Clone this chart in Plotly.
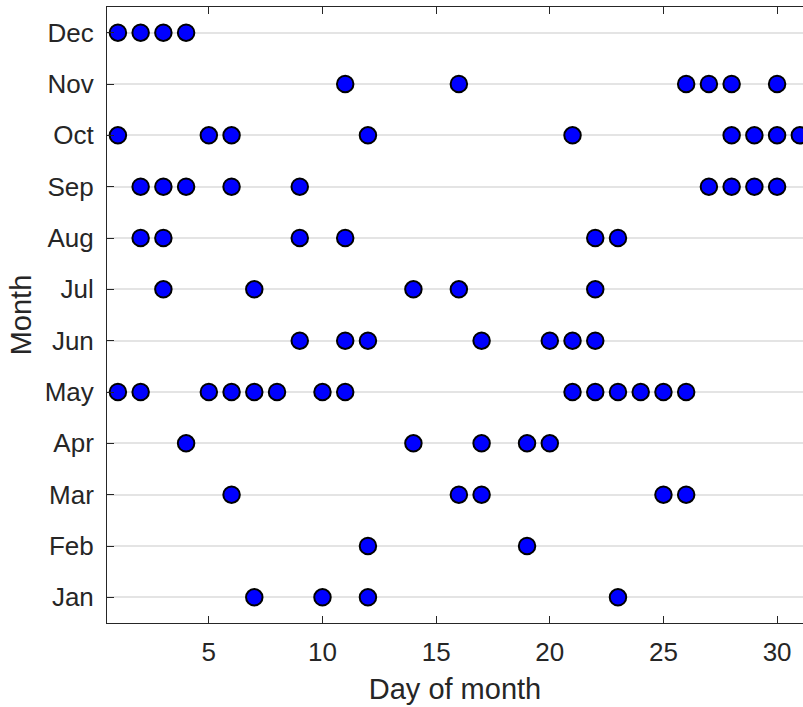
import plotly.graph_objects as go

months = ["Jan", "Feb", "Mar", "Apr", "May", "Jun", "Jul", "Aug", "Sep", "Oct", "Nov", "Dec"]

days_jan = [7, 10, 12, 23]
days_feb = [12, 19]
days_mar = [6, 16, 17, 25, 26]
days_apr = [4, 14, 17, 19, 20]
days_may = [1, 2, 5, 6, 7, 8, 10, 11, 21, 22, 23, 24, 25, 26]
days_jun = [9, 11, 12, 17, 20, 21, 22]
days_jul = [3, 7, 14, 16, 22]
days_aug = [2, 3, 9, 11, 22, 23]
days_sep = [2, 3, 4, 6, 9, 27, 28, 29, 30]
days_oct = [1, 5, 6, 12, 21, 28, 29, 30, 31]
days_nov = [11, 16, 26, 27, 28, 30]
days_dec = [1, 2, 3, 4]

x_ticks = [5, 10, 15, 20, 25, 30]

all_days = [days_jan, days_feb, days_mar, days_apr, days_may, days_jun,
            days_jul, days_aug, days_sep, days_oct, days_nov, days_dec]

xs, ys = [], []
for m, d in zip(months, all_days):
    xs.extend(d)
    ys.extend([m] * len(d))

axis_color = "#262626"
font_family = "Arial, Liberation Sans, sans-serif"

fig = go.Figure()
fig.add_trace(go.Scatter(
    x=xs, y=ys, mode="markers",
    marker=dict(size=16.5, color="#0000FF", line=dict(color="black", width=2)),
    cliponaxis=True,
    showlegend=False,
))

fig.update_layout(
    width=803, height=707,
    margin=dict(l=107, r=0, t=7, b=84),
    paper_bgcolor="white", plot_bgcolor="white",
    font=dict(family=font_family, color=axis_color, size=26),
)
fig.update_xaxes(
    range=[0.52, 31.14],
    tickmode="array", tickvals=x_ticks,
    ticks="inside", ticklen=7, tickwidth=1, tickcolor=axis_color,
    showline=True, linecolor=axis_color, linewidth=1, mirror="ticks",
    showgrid=False, zeroline=False,
    tickfont=dict(size=26, color=axis_color),
    ticklabelstandoff=6,
    title=dict(text="Day of month", font=dict(size=29, color=axis_color), standoff=12),
)
fig.update_yaxes(
    type="category", categoryorder="array", categoryarray=months,
    range=[-0.5, 11.5],
    ticks="inside", ticklen=7, tickwidth=1, tickcolor=axis_color,
    showline=True, linecolor=axis_color, linewidth=1, mirror=False,
    showgrid=True, gridcolor="#e4e4e4", gridwidth=1.5,
    zeroline=False,
    tickfont=dict(size=26, color=axis_color),
    ticklabelstandoff=7,
    title=dict(text="Month", font=dict(size=29, color=axis_color), standoff=4),
)

fig.write_html(
    "out.html",
    config={"displayModeBar": False},
    post_script="document.body.style.margin='0';document.body.style.overflow='hidden';",
)
